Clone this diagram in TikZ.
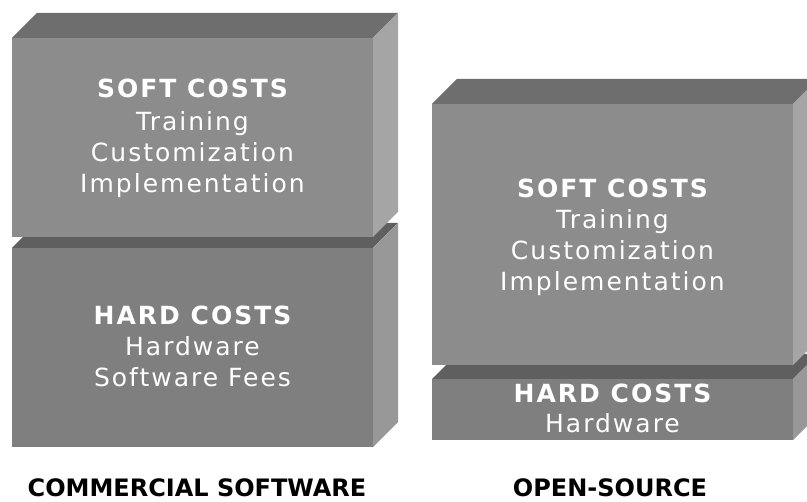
\documentclass[tikz,border=0pt]{standalone}
\usepackage{fontspec}
\setmainfont{DejaVu Sans}
\newfontfamily\boxfont[LetterSpace=8]{DejaVu Sans}
\definecolor{softfront}{RGB}{140,140,140}
\definecolor{softtop}{RGB}{110,110,110}
\definecolor{softside}{RGB}{165,165,165}
\definecolor{hardfront}{RGB}{127,127,127}
\definecolor{hardtop}{RGB}{95,95,95}
\definecolor{hardside}{RGB}{152,152,152}
\newcommand\drawcuboid[7]{%
  % #1,#2 top-left front; #3,#4 bottom-right front; #5 front #6 top #7 side
  \fill[#6] (#1,#2) -- (#1+25,#2-25) -- (#3+25,#2-25) -- (#3,#2) -- cycle;
  \fill[#7] (#3,#2) -- (#3+25,#2-25) -- (#3+25,#4-25) -- (#3,#4) -- cycle;
  \fill[#5] (#1,#2) rectangle (#3,#4);
}
\tikzset{
  ttl/.style={anchor=base, text=white, font=\boxfont\bfseries\fontsize{25}{31}\selectfont, inner sep=0pt},
  itm/.style={anchor=base, text=white, font=\boxfont\fontsize{25}{31}\selectfont, inner sep=0pt},
  lab/.style={anchor=base, text=black, font=\bfseries\fontsize{24}{31}\selectfont, inner sep=0pt}
}
\begin{document}
\begin{tikzpicture}[x=1pt,y=-1pt]
\useasboundingbox (0,0) rectangle (807,502);
\clip (0,0) rectangle (807,502);
\fill[white] (0,0) rectangle (807,502);
% left stack
\drawcuboid{12}{248}{373}{447}{hardfront}{hardtop}{hardside}
\drawcuboid{12}{38}{373}{237}{softfront}{softtop}{softside}
% right stack
\drawcuboid{432}{379}{793}{440}{hardfront}{hardtop}{hardside}
\drawcuboid{432}{104}{793}{365}{softfront}{softtop}{softside}
% left texts
\node[ttl] (ls0) at (192.5,98) {SOFT COSTS};
\node[itm] (ls1) at (192.5,131) {Training};
\node[itm] (ls2) at (192.5,162) {Customization};
\node[itm] (ls3) at (192.5,193) {Implementation};
\node[ttl] (lh0) at (192.5,325) {HARD COSTS};
\node[itm] (lh1) at (192.5,356) {Hardware};
\node[itm] (lh2) at (192.5,387) {Software Fees};
% right texts
\node[ttl] (rs0) at (612.5,198) {SOFT COSTS};
\node[itm] (rs1) at (612.5,229) {Training};
\node[itm] (rs2) at (612.5,260) {Customization};
\node[itm] (rs3) at (612.5,291) {Implementation};
\node[ttl] (rh0) at (612.5,403) {HARD COSTS};
\node[itm] (rh1) at (612.5,433) {Hardware};
% labels
\node[lab] (lcap) at (197,497) {COMMERCIAL SOFTWARE};
\node[lab] (rcap) at (610,497) {OPEN-SOURCE};
\end{tikzpicture}
\end{document}
